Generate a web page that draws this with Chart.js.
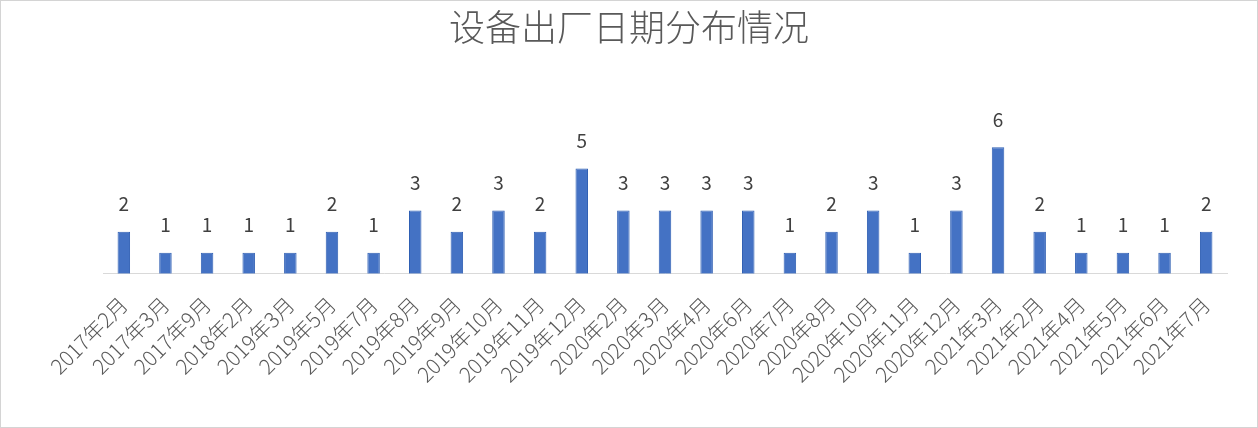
<!DOCTYPE html>
<html>
<head>
<meta charset="utf-8">
<script src="https://cdn.jsdelivr.net/npm/chart.js@4"></script>
<style>
  html, body { margin: 0; padding: 0; background: #fff; }
  #wrap { width: 1258px; height: 428px; box-sizing: border-box; border: 1px solid #d4d4d4; }
</style>
</head>
<body>
<div id="wrap"><canvas id="dateChart"></canvas></div>
<script>
const months = [
  '2017年2月', '2017年3月', '2017年9月', '2018年2月', '2019年3月', '2019年5月',
  '2019年7月', '2019年8月', '2019年9月', '2019年10月', '2019年11月', '2019年12月',
  '2020年2月', '2020年3月', '2020年4月', '2020年6月', '2020年7月', '2020年8月',
  '2020年10月', '2020年11月', '2020年12月', '2021年3月', '2021年2月', '2021年4月',
  '2021年5月', '2021年6月', '2021年7月'
];

const counts = [2, 1, 1, 1, 1, 2, 1, 3, 2, 3, 2, 5, 3, 3, 3, 3, 1, 2, 3, 1, 3, 6, 2, 1, 1, 1, 2];

const chartTitle = '设备出厂日期分布情况';

const FONT = '"Noto Sans CJK SC", "Noto Sans", sans-serif';

// draw the value above each bar
const valueLabels = {
  id: 'valueLabels',
  afterDatasetsDraw(chart) {
    const ctx = chart.ctx;
    const meta = chart.getDatasetMeta(0);
    ctx.save();
    ctx.font = '19px ' + FONT;
    ctx.fillStyle = '#404040';
    ctx.textAlign = 'center';
    ctx.textBaseline = 'bottom';
    meta.data.forEach((bar, i) => {
      ctx.fillText(String(counts[i]), bar.x, bar.y - 18);
    });
    ctx.restore();
  }
};

const canvas = document.getElementById('dateChart');
canvas.width = 1256;
canvas.height = 426;

new Chart(canvas, {
  type: 'bar',
  data: {
    labels: months,
    datasets: [{
      data: counts,
      backgroundColor: '#4472c4',
      borderColor: '#2f5fb3',
      borderWidth: 1,
      barPercentage: 0.3,
      categoryPercentage: 1
    }]
  },
  options: {
    responsive: false,
    animation: false,
    layout: {
      padding: { left: 30, right: 30, top: 0, bottom: 30 }
    },
    plugins: {
      legend: { display: false },
      tooltip: { enabled: false },
      title: {
        display: true,
        text: chartTitle,
        color: '#595959',
        font: { family: FONT, size: 36, weight: 300 },
        padding: { top: 5, bottom: 77 }
      }
    },
    scales: {
      x: {
        grid: { display: false },
        border: { display: true, color: '#d9d9d9', width: 1 },
        ticks: {
          color: '#595959',
          font: { family: FONT, size: 21, weight: 300 },
          minRotation: 45,
          maxRotation: 45,
          autoSkip: false,
          padding: 10
        }
      },
      y: {
        min: 0,
        max: 7,
        grid: { display: false },
        border: { display: false },
        ticks: { display: false },
        // empty space on the left, like the original plot area
        afterFit(scale) {
          scale.width = 72;
        }
      }
    }
  },
  plugins: [valueLabels]
});
</script>
</body>
</html>
